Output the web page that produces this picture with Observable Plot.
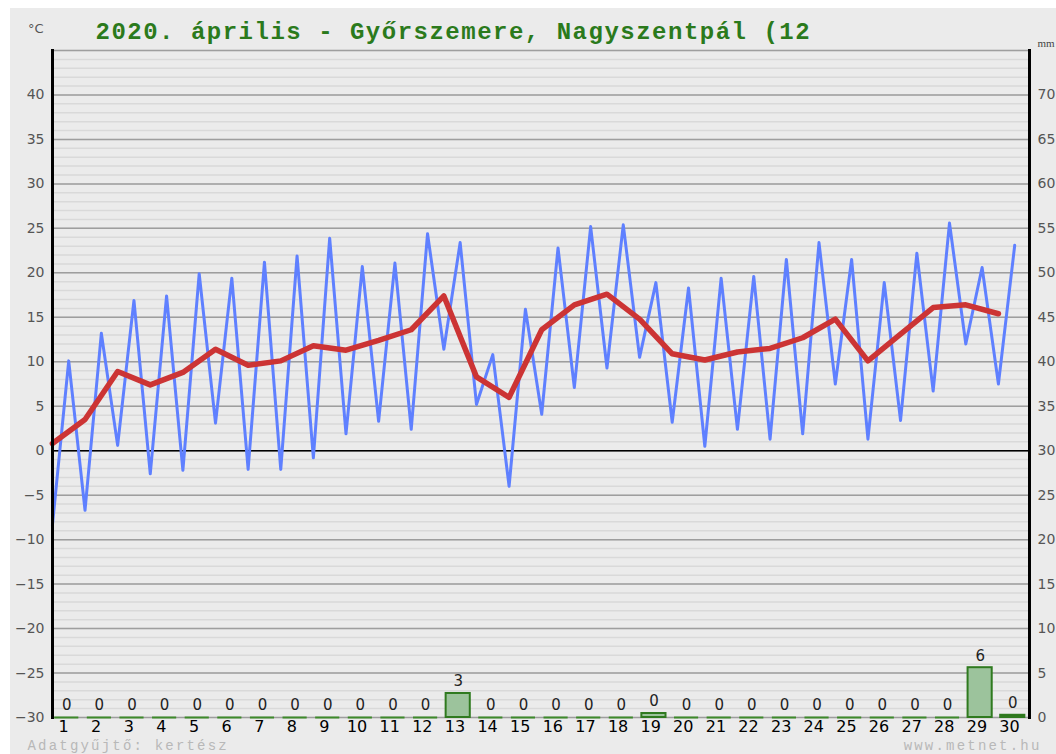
<!DOCTYPE html>
<html>
<head>
<meta charset="utf-8">
<script src="https://cdn.jsdelivr.net/npm/d3@7"></script>
<script src="https://cdn.jsdelivr.net/npm/@observablehq/plot@0.6"></script>
<style>
  html, body { margin: 0; padding: 0; background: #ffffff; }
  #chart { position: absolute; left: 10px; top: 8px; }
</style>
</head>
<body>
<div id="chart"></div>
<script>
// ---- data ----
const days = [1,2,3,4,5,6,7,8,9,10,11,12,13,14,15,16,17,18,19,20,21,22,23,24,25,26,27,28,29,30];
const tMin = [-8.4,-6.7,0.6,-2.6,-2.2,3.1,-2.1,-2.1,-0.8,1.9,3.3,2.4,11.4,5.2,-4.0,4.1,7.1,9.3,10.5,3.2,0.5,2.4,1.3,1.9,7.5,1.3,3.4,6.7,12.0,7.5];
const tMax = [10.1,13.2,16.9,17.4,19.9,19.4,21.2,21.9,23.9,20.7,21.1,24.4,23.4,10.8,15.9,22.8,25.2,25.4,18.9,18.3,19.4,19.6,21.5,23.4,21.5,18.9,22.2,25.6,20.6,23.1];
const tMean = [0.8,3.5,8.9,7.4,8.8,11.4,9.6,10.1,11.8,11.3,12.4,13.6,17.4,8.3,6.0,13.6,16.4,17.6,14.8,10.9,10.2,11.1,11.5,12.7,14.8,10.1,13.1,16.1,16.4,15.4];
const precip = [0,0,0,0,0,0,0,0,0,0,0,0,2.7,0,0,0,0,0,0.45,0,0,0,0,0,0,0,0,0,5.6,0.25];
const tempTicks = [-30,-25,-20,-15,-10,-5,0,5,10,15,20,25,30,35,40];
const titleText = "2020. április - Győrszemere, Nagyszentpál (12";
const leftFooter = "Adatgyűjtő: kertész";
const rightFooter = "www.metnet.hu";

// ---- derived tables ----
const tempSeries = days.flatMap((d, i) => [
  {t: d - 0.34, v: tMin[i]},
  {t: d + 0.16, v: tMax[i]}
]);
const meanSeries = days.map((d, i) => ({t: d - 0.34, v: tMean[i]}));
const rain = days.map((d, i) => ({day: d, mm: precip[i]}));
const PBASE = -30; // mm axis: 0 mm sits at -30 °C
const minorGrid = d3.range(-30, 46, 1);
const majorGrid = d3.range(-30, 46, 5);

const mono = "'Liberation Mono', 'DejaVu Sans Mono', monospace";
const sans = "'DejaVu Sans', Verdana, sans-serif";

const chart = Plot.plot({
  width: 1046,
  height: 746,
  marginLeft: 42,
  marginRight: 27,
  marginTop: 42,
  marginBottom: 37,
  style: {background: "#ebebeb", fontFamily: sans},
  x: {domain: [0.663, 30.613], axis: null},
  y: {domain: [-30, 45], axis: null},
  marks: [
    Plot.ruleY(minorGrid, {stroke: "#d9d9d9", strokeWidth: 1.5}),
    Plot.ruleY(majorGrid, {stroke: "#9e9e9e", strokeWidth: 1.5}),
    Plot.ruleY([0], {stroke: "#000", strokeWidth: 1.5}),
    // precipitation
    Plot.ruleY(rain.filter(r => r.mm === 0), {
      x1: r => r.day - 0.27, x2: r => r.day + 0.47, y: PBASE,
      stroke: "#3d8a2a", strokeWidth: 2
    }),
    Plot.rect(rain.filter(r => r.mm > 0), {
      x1: r => r.day - 0.27, x2: r => r.day + 0.47,
      y1: PBASE, y2: r => PBASE + r.mm,
      fill: r => r.day === 30 ? "#2f6e1e" : "#9cc39c",
      stroke: "#2f7a1f", strokeWidth: 2
    }),
    Plot.text(rain, {
      x: r => r.day + 0.1, y: r => PBASE + r.mm,
      text: r => String(Math.round(r.mm)),
      dy: -12, fontSize: 15, fill: "#222", fontFamily: sans
    }),
    // temperatures
    Plot.line(tempSeries, {x: "t", y: "v", stroke: "#5f80ff", strokeWidth: 3}),
    Plot.line(meanSeries, {x: "t", y: "v", stroke: "#cc3434", strokeWidth: 5.5}),
    // axes
    Plot.axisY({ticks: tempTicks, anchor: "left", tickSize: 0, tickPadding: 8,
      fontSize: 14, color: "#555", label: null}),
    Plot.axisY({ticks: tempTicks, anchor: "right", tickSize: 0, tickPadding: 8,
      tickFormat: d => String(d - PBASE), fontSize: 14, color: "#555", label: null, textAnchor: "start"}),
    Plot.axisX({ticks: days, tickSize: 0, tickPadding: 3, fontSize: 16, color: "#000",
      label: null, tickFormat: d => String(d)}),
    Plot.frame({anchor: "left", stroke: "#000", strokeWidth: 3}),
    Plot.frame({anchor: "right", stroke: "#000", strokeWidth: 3}),
    // texts
    Plot.text([titleText], {frameAnchor: "top-left", dx: 43, dy: -19, textAnchor: "start",
      lineAnchor: "middle", fontSize: 24, fontWeight: "bold", fill: "#2b7a1c",
      fontFamily: mono}),
    Plot.text(["°C"], {frameAnchor: "top-left", dx: -9, dy: -22, textAnchor: "end",
      lineAnchor: "middle", fontSize: 13, fill: "#555"}),
    Plot.text(["mm"], {frameAnchor: "top-right", dx: 8, dy: -7, textAnchor: "start",
      lineAnchor: "middle", fontSize: 11, fill: "#444", fontFamily: "'Liberation Serif', serif"}),
    Plot.text([leftFooter], {frameAnchor: "bottom-left", dx: -25, dy: 28, textAnchor: "start",
      lineAnchor: "middle", fontSize: 14, fill: "#b8b8b8", fontFamily: mono}),
    Plot.text([rightFooter], {frameAnchor: "bottom-right", dx: 12, dy: 28, textAnchor: "end",
      lineAnchor: "middle", fontSize: 14, fill: "#b8b8b8", fontFamily: mono})
  ]
});
// letter spacing for the monospace title / footers (Plot has no letterSpacing option)
d3.select(chart).selectAll("text").each(function() {
  const s = this.textContent;
  if (s === titleText) this.setAttribute("letter-spacing", "1.5");
  if (s === leftFooter || s === rightFooter) this.setAttribute("letter-spacing", "2.2");
});
document.getElementById("chart").appendChild(chart);
</script>
</body>
</html>
